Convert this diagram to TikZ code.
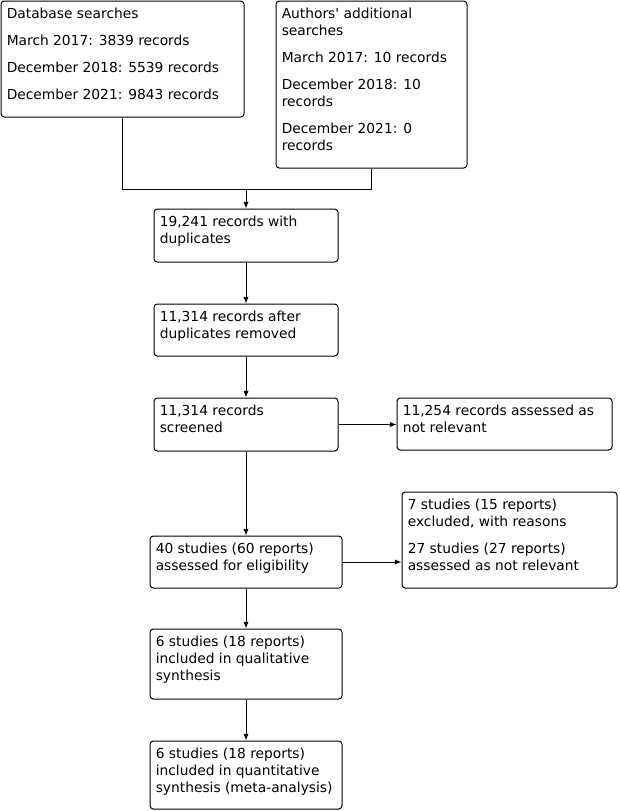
\documentclass[tikz,border=0pt]{standalone}
\usepackage{fontspec}
\setmainfont{DejaVu Sans}
\usetikzlibrary{arrows.meta,fit}
\begin{document}
\begin{tikzpicture}[x=0.75pt,y=-0.75pt,
 box/.style={draw, line width=0.75pt, rounded corners=2.5pt, inner sep=0pt},
 txt/.style={anchor=north west, inner sep=0pt, align=left, font=\fontsize{10.35pt}{12.75pt}\selectfont},
 arr/.style={-{Latex[length=5pt,width=4pt]}, line width=0.75pt},
 ln/.style={line width=0.75pt}]
\useasboundingbox (0,0) rectangle (619,811);
% boxes
\node[box, fit={(1,1) (244,117)}] (db) {};
\node[box, fit={(276,1) (467,168)}] (au) {};
\node[box, fit={(154,209) (338,262)}] (dup) {};
\node[box, fit={(154,304) (338,356)}] (rem) {};
\node[box, fit={(154,398) (338,451)}] (scr) {};
\node[box, fit={(397,398) (612,450)}] (nr) {};
\node[box, fit={(150,536) (342,588)}] (el) {};
\node[box, fit={(402,492) (617,588)}] (ex) {};
\node[box, fit={(150,629) (342,699)}] (qual) {};
\node[box, fit={(150,741) (342,809)}] (quant) {};
% texts
\node[txt] (dbt) at ([shift={(6,7)}]db.north west) {Database searches\\[7.5pt]March 2017: 3839 records\\[7.5pt]December 2018: 5539 records\\[7.5pt]December 2021: 9843 records};
\node[txt] (aut) at ([shift={(6,7)}]au.north west) {Authors\textquotesingle{} additional\\searches\\[7.5pt]March 2017: 10 records\\[7.5pt]December 2018: 10\\records\\[7.5pt]December 2021: 0\\records};
\node[txt] (dupt) at ([shift={(6,7)}]dup.north west) {19,241 records with\\duplicates};
\node[txt] (remt) at ([shift={(6,7)}]rem.north west) {11,314 records after\\duplicates removed};
\node[txt] (scrt) at ([shift={(6,7)}]scr.north west) {11,314 records\\screened};
\node[txt] (nrt) at ([shift={(6,7)}]nr.north west) {11,254 records assessed as\\not relevant};
\node[txt] (elt) at ([shift={(6,7)}]el.north west) {40 studies (60 reports)\\assessed for eligibility};
\node[txt] (ext) at ([shift={(6,7)}]ex.north west) {7 studies (15 reports)\\excluded, with reasons\\[7.5pt]27 studies (27 reports)\\assessed as not relevant};
\node[txt] (qualt) at ([shift={(6,7)}]qual.north west) {6 studies (18 reports)\\included in qualitative\\synthesis};
\node[txt] (quantt) at ([shift={(6,7)}]quant.north west) {6 studies (18 reports)\\included in quantitative\\synthesis (meta-analysis)};
% connectors
\coordinate (m) at (246,189);
\draw[ln] (db.south) |- (m);
\draw[ln] (au.south) |- (m);
\draw[arr] (m) -- (m |- dup.north);
\draw[arr] (m |- dup.south) -- (m |- rem.north);
\draw[arr] (m |- rem.south) -- (m |- scr.north);
\draw[arr] (m |- scr.south) -- (m |- el.north);
\draw[arr] (m |- el.south) -- (m |- qual.north);
\draw[arr] (m |- qual.south) -- (m |- quant.north);
\draw[arr] (scr.east) -- (scr.east -| nr.west);
\draw[arr] (el.east) -- (el.east -| ex.west);
\end{tikzpicture}
\end{document}
